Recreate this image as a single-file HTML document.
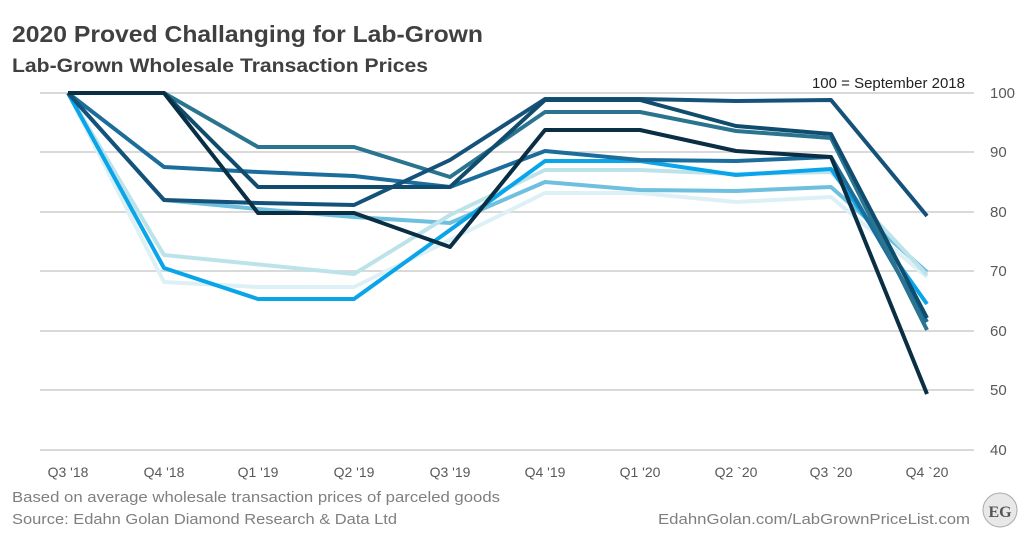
<!DOCTYPE html>
<html><head><meta charset="utf-8"><style>
body{margin:0;width:1024px;height:534px;background:#fff;font-family:"Liberation Sans",sans-serif;overflow:hidden}
</style></head><body>
<svg width="1024" height="534" xmlns="http://www.w3.org/2000/svg" font-family="Liberation Sans, sans-serif">
<text x="12" y="42" font-size="23" font-weight="bold" fill="#404040" textLength="471" lengthAdjust="spacingAndGlyphs">2020 Proved Challanging for Lab-Grown</text>
<text x="12" y="72" font-size="19" font-weight="bold" fill="#404040" textLength="416" lengthAdjust="spacingAndGlyphs">Lab-Grown Wholesale Transaction  Prices</text>
<text x="965" y="88" font-size="15" fill="#222" text-anchor="end">100 = September 2018</text>
<g stroke="#d9d9d9" stroke-width="2">
<line x1="40" x2="974" y1="93" y2="93"/><line x1="40" x2="974" y1="152" y2="152"/>
<line x1="40" x2="974" y1="212" y2="212"/><line x1="40" x2="974" y1="271" y2="271"/>
<line x1="40" x2="974" y1="331" y2="331"/><line x1="40" x2="974" y1="390" y2="390"/>
<line x1="40" x2="974" y1="450" y2="450"/>
</g>
<g font-size="15" fill="#595959">
<text x="990" y="98">100</text><text x="990" y="157">90</text><text x="990" y="217">80</text>
<text x="990" y="276">70</text><text x="990" y="336">60</text><text x="990" y="395">50</text><text x="990" y="455">40</text>
</g>
<g font-size="14" fill="#595959" text-anchor="middle">
<text x="68" y="477">Q3 '18</text><text x="164" y="477">Q4 '18</text><text x="258" y="477">Q1 '19</text>
<text x="354" y="477">Q2 '19</text><text x="450" y="477">Q3 '19</text><text x="545" y="477">Q4 '19</text>
<text x="640" y="477">Q1 '20</text><text x="736" y="477">Q2 `20</text><text x="831" y="477">Q3 `20</text><text x="927" y="477">Q4 `20</text>
</g>
<g fill="none" stroke-width="4" stroke-linejoin="round">
<polyline stroke="#ddf0f5" points="68,93 164,282 258,287 354,287 450,240 545,193 640,193 736,202 831,197 927,277"/>
<polyline stroke="#6fc0df" points="68,93 164,200 258,209 354,217 450,223 545,182 640,190 736,191 831,187 927,272"/>
<polyline stroke="#bde3ea" points="68,93 164,255 354,274 450,215 545,170 640,170 736,174 831,172 927,275"/>
<polyline stroke="#0aa5e8" points="68,93 164,268 258,299 354,299 450,230 545,161 640,161 736,175 831,169 927,304"/>
<polyline stroke="#1b6d9c" points="68,93 164,167 258,172 354,176 450,187 545,151 640,160 736,161 831,157 927,322"/>
<polyline stroke="#2b7490" points="68,93 164,93 258,147 354,147 450,177 545,112 640,112 736,131 831,138 927,330"/>
<polyline stroke="#15527a" points="68,93 164,200 258,203 354,205 450,160 545,99 640,99 736,101 831,100 927,216"/>
<polyline stroke="#0f4c6e" points="68,93 164,93 258,187 354,187 450,187 545,100 640,100 736,126 831,134 927,318"/>
<polyline stroke="#0a2f45" points="68,93 164,93 258,213 354,213 450,247 545,130 640,130 736,151 831,157 927,394"/>
</g>
<text x="12" y="502" font-size="15" fill="#7f7f7f" textLength="488" lengthAdjust="spacingAndGlyphs">Based on average wholesale transaction prices of parceled goods</text>
<text x="12" y="524" font-size="15" fill="#7f7f7f" textLength="385" lengthAdjust="spacingAndGlyphs">Source: Edahn Golan Diamond Research &amp; Data Ltd</text>
<text x="658" y="524" font-size="15" fill="#7f7f7f" textLength="312" lengthAdjust="spacingAndGlyphs">EdahnGolan.com/LabGrownPriceList.com</text>
<circle cx="1000" cy="510" r="17" fill="#e8e8e8" stroke="#aaa"/>
<text x="1000" y="517" font-size="16" font-weight="bold" fill="#555" text-anchor="middle" font-family="Liberation Serif, serif">EG</text>
</svg>
</body></html>
